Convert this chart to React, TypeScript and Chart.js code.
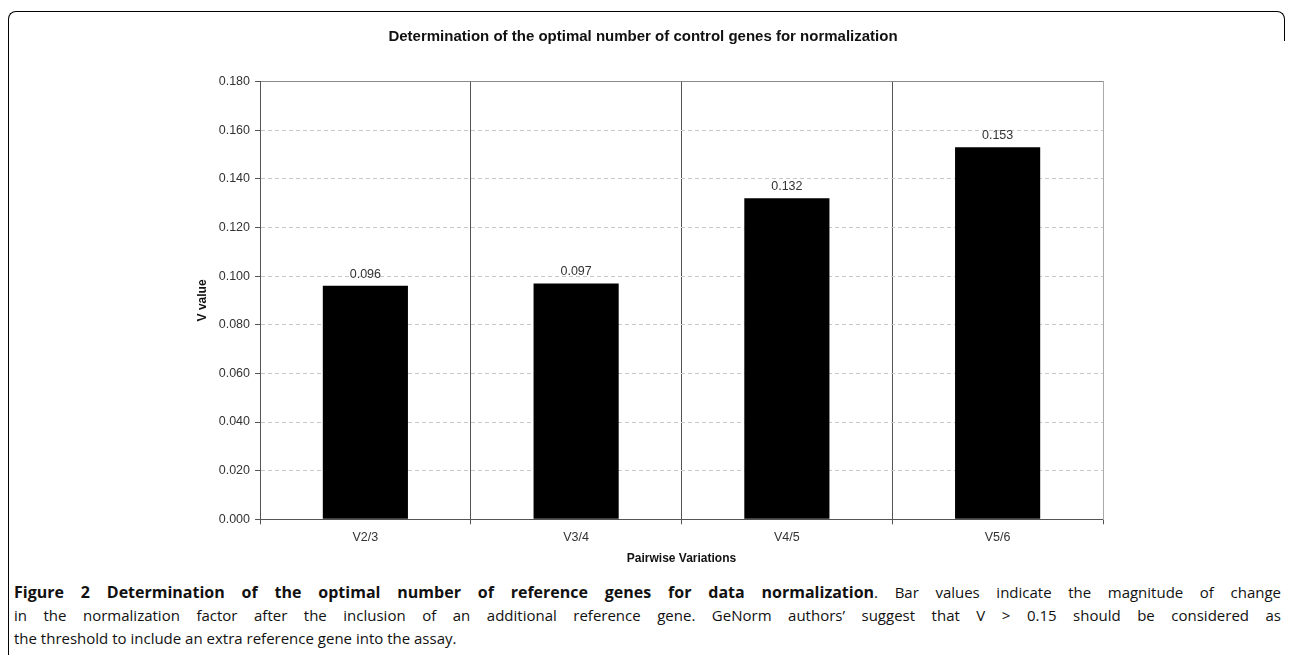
import React, { useEffect, useRef } from "react";
import { Chart, registerables } from "chart.js";

Chart.register(...registerables);

const categories = ["V2/3", "V3/4", "V4/5", "V5/6"];
const vValues = [0.096, 0.097, 0.132, 0.153];
const yMin = 0;
const yMax = 0.18;
const yStep = 0.02;

const chartTitle = "Determination of the optimal number of control genes for normalization";
const xTitle = "Pairwise Variations";
const yTitle = "V value";

const captionBold = "Figure 2 Determination of the optimal number of reference genes for data normalization";
const captionLine1Rest = ". Bar values indicate the magnitude of change";
const captionLine2 =
  "in the normalization factor after the inclusion of an additional reference gene. GeNorm authors\u2019 suggest that V > 0.15 should be considered as";
const captionLine3 = "the threshold to include an extra reference gene into the assay.";

const FONT = '"Liberation Sans", Arial, Helvetica, sans-serif';

const valueLabelPlugin = {
  id: "valueLabels",
  afterDatasetsDraw(chart: any) {
    const ctx = chart.ctx;
    const meta = chart.getDatasetMeta(0);
    const data = chart.data.datasets[0].data as number[];
    ctx.save();
    ctx.font = `12.5px ${FONT}`;
    ctx.fillStyle = "#333";
    ctx.textAlign = "center";
    ctx.textBaseline = "alphabetic";
    meta.data.forEach((el: any, i: number) => {
      ctx.fillText(Number(data[i]).toFixed(3), el.x, el.y - 8);
    });
    ctx.restore();
  },
};

export default function App() {
  const canvasRef = useRef<HTMLCanvasElement | null>(null);

  useEffect(() => {
    if (!canvasRef.current) return;
    const chart = new Chart(canvasRef.current, {
      type: "bar",
      data: {
        labels: categories,
        datasets: [
          {
            data: vValues,
            backgroundColor: "#000",
            borderWidth: 0,
            barPercentage: 0.404,
            categoryPercentage: 1,
          },
        ],
      },
      options: {
        responsive: false,
        animation: false,
        devicePixelRatio: 1,
        layout: { padding: { left: 0, right: 2, top: 0, bottom: 0 } },
        plugins: {
          legend: { display: false },
          tooltip: { enabled: false },
          title: {
            display: true,
            text: chartTitle,
            color: "#111",
            font: { family: FONT, size: 15, weight: "bold" },
            padding: { top: 15.5, bottom: 36.1 },
          },
        },
        scales: {
          x: {
            grid: {
              offset: true,
              color: (c: any) => (c.tick ? "#555" : "#aaa"),
              lineWidth: 1,
              drawTicks: true,
              tickLength: 5,
              tickColor: "#555",
            },
            border: { display: true, color: "#555" },
            ticks: { color: "#333", font: { family: FONT, size: 12.5 }, padding: 6 },
            title: {
              display: true,
              text: xTitle,
              color: "#111",
              font: { family: FONT, size: 12, weight: "bold" },
              padding: { top: 0, bottom: 6.5 },
            },
            afterFit: (s: any) => {
              s.height = 52.7;
            },
          },
          y: {
            min: yMin,
            max: yMax,
            ticks: {
              stepSize: yStep,
              color: "#333",
              font: { family: FONT, size: 12.5 },
              padding: 5,
              callback: (v: any) => Number(v).toFixed(3),
            },
            grid: {
              color: (c: any) => {
                if (!c.tick) return "#ccc";
                if (c.index === 0) return "#555";
                if (c.tick.value > yMax - yStep / 2) return "#888";
                return "#c8c8c8";
              },
              tickColor: "#555",
              tickLength: 5,
              lineWidth: 1,
            },
            border: {
              display: true,
              color: "#555",
              dash: (c: any) => {
                if (!c.tick) return [];
                if (c.index === 0 || c.tick.value > yMax - yStep / 2) return [];
                return [4, 3];
              },
            },
            title: {
              display: true,
              text: yTitle,
              color: "#111",
              font: { family: FONT, size: 12, weight: "bold" },
              padding: { top: 186.3, bottom: 0 },
            },
            afterFit: (s: any) => {
              s.width = 251;
            },
          },
          y2: {
            position: "right",
            min: yMin,
            max: yMax,
            display: true,
            grid: { display: false },
            ticks: { display: false },
            border: { display: true, color: "#aaa" },
            afterFit: (s: any) => {
              s.width = 174;
            },
          },
        },
      },
      plugins: [valueLabelPlugin],
    } as any);
    return () => chart.destroy();
  }, []);

  const captionWidth = 1267;
  const lineStyle: React.CSSProperties = {
    height: 23,
    lineHeight: "23px",
    textAlign: "justify",
    whiteSpace: "nowrap",
  };

  return (
    <div>
      <div
        style={{
          position: "absolute",
          left: 8,
          top: 11,
          width: 1260,
          height: 700,
          boxSizing: "border-box",
          borderTop: "1px solid #000",
          borderLeft: "1px solid #000",
          borderTopLeftRadius: 8,
        }}
      />
      <div
        style={{
          position: "absolute",
          left: 1264,
          top: 11,
          width: 21,
          height: 30,
          boxSizing: "border-box",
          borderTop: "1px solid #000",
          borderRight: "1px solid #000",
          borderTopRightRadius: 8,
        }}
      />
      <canvas
        ref={canvasRef}
        width={1270}
        height={560}
        style={{ position: "absolute", left: 9, top: 12, width: 1270, height: 560 }}
      />
      <div
        style={{
          position: "absolute",
          left: 14,
          top: 580.5,
          width: captionWidth,
          fontFamily: '"Open Sans", "Noto Sans", sans-serif',
          fontSize: 15,
          color: "#111",
        }}
      >
        <div style={{ ...lineStyle, textAlignLast: "justify" } as React.CSSProperties}>
          <b style={{ fontWeight: 700, fontSize: 16 }}>{captionBold}</b>
          {captionLine1Rest}
        </div>
        <div style={{ ...lineStyle, textAlignLast: "justify" } as React.CSSProperties}>{captionLine2}</div>
        <div style={{ ...lineStyle, textAlign: "left" }}>{captionLine3}</div>
      </div>
    </div>
  );
}
